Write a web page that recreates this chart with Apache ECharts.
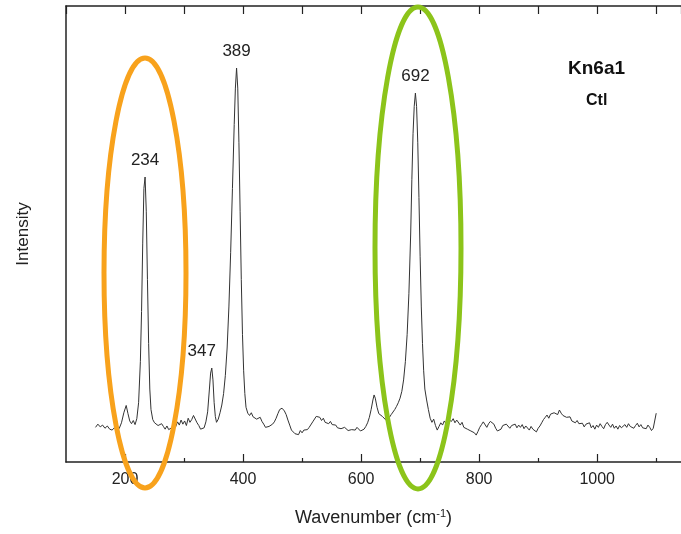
<!DOCTYPE html>
<html>
<head>
<meta charset="utf-8">
<script src="https://cdn.jsdelivr.net/npm/echarts@6/dist/echarts.min.js"></script>
<style>
  html, body { margin: 0; padding: 0; background: #fff; }
  #spectrum { width: 681px; height: 534px; }
</style>
</head>
<body>
<div id="spectrum"></div>
<script>
// Raman spectrum, Kn6a1 Ctl (intensity in arbitrary units)
var wavenumber = [
  150, 154, 158, 162, 166, 170, 174, 178, 182, 186, 190, 194, 198, 202, 205, 208, 211, 214, 217, 220,
  223, 226, 228, 230, 232, 234, 236, 238, 240, 242, 244, 247, 250, 253, 256, 259, 262, 265, 268, 271,
  274, 277, 280, 283, 286, 289, 292, 295, 298, 301, 304, 307, 310, 313, 316, 319, 322, 325, 328, 331,
  334, 337, 340, 343, 345, 347, 349, 351, 353, 355, 358, 361, 364, 367, 370, 373, 376, 379, 382, 385,
  387, 389, 391, 393, 395, 397, 399, 401, 403, 405, 408, 411, 414, 417, 420, 423, 426, 429, 432, 435,
  438, 441, 444, 447, 450, 453, 456, 459, 462, 466, 470, 473, 476, 479, 482, 485, 488, 491, 494, 497,
  500, 503, 506, 509, 512, 515, 518, 521, 524, 527, 530, 533, 536, 539, 542, 545, 548, 551, 554, 557,
  560, 563, 566, 569, 572, 575, 578, 581, 584, 587, 590, 593, 596, 599, 602, 605, 608, 611, 614, 617,
  620, 622, 624, 627, 630, 633, 636, 639, 642, 645, 648, 651, 654, 657, 660, 663, 666, 669, 672, 675,
  678, 681, 684, 686, 688, 690, 692, 694, 696, 698, 700, 702, 704, 706, 708, 711, 714, 717, 720, 723,
  726, 729, 732, 735, 738, 741, 744, 747, 750, 753, 756, 759, 762, 765, 768, 771, 774, 777, 780, 783,
  786, 789, 792, 795, 798, 801, 804, 807, 810, 813, 816, 819, 822, 825, 828, 831, 834, 837, 840, 843,
  846, 849, 852, 855, 858, 861, 864, 867, 870, 873, 876, 879, 882, 885, 888, 891, 894, 897, 900, 903,
  906, 909, 912, 915, 918, 921, 924, 927, 930, 933, 936, 939, 942, 945, 948, 951, 954, 957, 960, 963,
  966, 969, 972, 975, 978, 981, 984, 987, 990, 993, 996, 999, 1002, 1005, 1008, 1011, 1014, 1017, 1020, 1023,
  1026, 1029, 1032, 1035, 1038, 1041, 1044, 1047, 1050, 1053, 1056, 1059, 1062, 1065, 1068, 1071, 1074, 1077, 1080, 1083,
  1086, 1089, 1092, 1095, 1098, 1100
];
var intensity = [
  7.6, 8.3, 7.7, 8.1, 7.4, 7.9, 7.2, 7.0, 7.5, 6.8, 7.3, 8.6, 10.8, 12.4, 10.6, 9.0, 8.4, 9.1, 8.2, 9.5,
  13, 22, 33, 48, 60, 62.5, 55, 40, 26, 16, 11.5, 9.3, 8.6, 9.0, 8.0, 7.6, 8.4, 7.8, 7.2, 7.9,
  7.1, 6.9, 7.6, 8.5, 7.8, 8.8, 8.1, 9.2, 8.3, 9.0, 8.0, 9.6, 8.7, 9.3, 10.2, 9.8, 8.6, 8.0, 7.2, 6.8,
  7.5, 8.8, 11, 16, 19.5, 20.6, 18, 13, 10, 8.7, 9.4, 10.8, 12.5, 15, 19, 25, 34, 46, 60, 74,
  82, 86.4, 82, 70, 55, 40, 28, 20, 15, 12, 10.7, 10.2, 10.8, 9.9, 10.1, 9.4, 9.2, 9.8, 8.9, 8.3,
  7.6, 7.2, 7.8, 7.4, 8.3, 8.8, 9.6, 10.6, 11.5, 11.8, 11.2, 10.4, 9.2, 8.1, 7.0, 6.8, 6.2, 6.5, 6.0, 6.9,
  6.4, 7.0, 7.4, 7.1, 7.6, 8.0, 8.8, 9.2, 10.0, 10.4, 9.8, 9.1, 9.6, 8.7, 9.0, 8.4, 8.9, 8.2, 7.8, 8.1,
  7.5, 7.9, 7.3, 7.0, 7.6, 7.2, 6.9, 6.6, 7.1, 7.4, 7.0, 7.6, 7.2, 6.8, 6.7, 7.2, 7.8, 8.6, 9.8, 11.5,
  13.6, 14.7, 14.0, 12.0, 10.6, 10.3, 10.0, 9.6, 9.2, 9.5, 9.8, 10.4, 10.8, 11.5, 12.2, 13.0, 14.0, 15.5, 18, 22,
  28, 37, 50, 62, 72, 78, 80.9, 78, 70, 58, 45, 34, 26, 20, 16, 13.6, 11.5, 9.6, 8.7, 9.4,
  8.0, 7.0, 7.8, 8.6, 8.1, 9.0, 8.4, 9.4, 9.8, 8.9, 9.5, 8.6, 9.2, 8.8, 8.1, 8.7, 7.6, 8.0, 7.2, 7.5,
  6.8, 7.1, 6.4, 5.9, 6.7, 7.6, 8.2, 8.8, 8.5, 7.6, 8.4, 8.9, 9.2, 8.3, 7.4, 6.8, 6.4, 7.2, 8.0, 7.6,
  8.3, 7.9, 7.4, 8.0, 7.7, 8.3, 7.5, 8.1, 7.6, 8.2, 7.3, 7.9, 7.5, 7.0, 7.8, 7.2, 6.9, 6.6, 7.4, 7.9,
  8.6, 9.3, 9.8, 10.3, 9.6, 10.5, 10.1, 10.8, 11.0, 10.4, 11.4, 10.7, 10.2, 10.6, 9.8, 10.1, 9.9, 9.0, 9.4, 8.6,
  9.1, 8.4, 8.8, 8.5, 7.7, 8.3, 7.9, 8.6, 7.5, 8.0, 7.2, 8.1, 7.6, 8.4, 7.8, 7.3, 8.2, 8.7, 8.1, 7.6,
  8.3, 7.4, 7.9, 7.2, 8.0, 7.5, 7.7, 8.2, 7.6, 8.4, 7.8, 8.1, 7.4, 8.0, 8.5, 7.7, 8.2, 7.5, 7.9, 7.3,
  8.1, 7.6, 6.9, 7.4, 7.0, 10.7
];

// labelled peaks
var peakNames = ['234', '347', '389', '692'];
var peakPos = [234, 347, 389, 692];
var peakHeight = [62.5, 20.6, 86.4, 80.9];

var majorTicks = [200, 400, 600, 800, 1000];
var minorTicks = [300, 500, 700, 900, 1100];

var sampleName = 'Kn6a1';
var sampleGroup = 'Ctl';

var textColor = '#222';
var fontFamily = '"Liberation Sans", Arial, sans-serif';

var myChart = echarts.init(document.getElementById('spectrum'));

var points = wavenumber.map(function (w, i) { return [w, intensity[i]]; });

var option = {
    backgroundColor: '#fff',
    animation: false,
    textStyle: { fontFamily: fontFamily },
    grid: { left: 66, right: 0, top: 6, bottom: 72 },
    xAxis: [
        {
            type: 'value', position: 'bottom', min: 100, max: 1142, interval: 100,
            axisLine: { lineStyle: { color: textColor, width: 1.5 } },
            axisTick: { inside: true, length: 8, customValues: majorTicks, lineStyle: { color: textColor, width: 1.2 } },
            axisLabel: { customValues: majorTicks, color: textColor, fontSize: 16, margin: 10, formatter: function (v) { return String(v); } },
            splitLine: { show: false },
            name: 'Wavenumber (cm{sup|-1})',
            nameLocation: 'middle', nameGap: 46,
            nameTextStyle: {
                color: textColor, fontSize: 18,
                rich: { sup: { fontSize: 11, verticalAlign: 'top', padding: [0, 0, 10, 0], color: textColor } }
            }
        },
        {
            type: 'value', position: 'bottom', offset: 0, min: 100, max: 1142, interval: 100,
            axisLine: { show: false },
            axisTick: { inside: true, length: 4, customValues: minorTicks, lineStyle: { color: textColor, width: 1.2 } },
            axisLabel: { show: false },
            splitLine: { show: false }
        },
        {
            type: 'value', position: 'top', min: 100, max: 1142, interval: 100,
            axisLine: { lineStyle: { color: textColor, width: 1.5 } },
            axisTick: { inside: true, length: 8, lineStyle: { color: textColor, width: 1.2 } },
            axisLabel: { show: false },
            splitLine: { show: false }
        }
    ],
    yAxis: {
        type: 'value', min: 0, max: 100,
        axisLine: { show: true, lineStyle: { color: textColor, width: 1.5 } },
        axisTick: { show: false },
        axisLabel: { show: false },
        splitLine: { show: false },
        name: 'Intensity', nameLocation: 'middle', nameGap: 34,
        nameTextStyle: { color: textColor, fontSize: 17 }
    },
    series: [{
        type: 'line',
        xAxisIndex: 0,
        data: points,
        showSymbol: false,
        lineStyle: { color: '#333', width: 1 },
        markPoint: {
            symbol: 'circle', symbolSize: 0,
            label: { show: true, position: 'top', distance: 8, color: textColor, fontSize: 17, formatter: '{b}' },
            data: peakNames.map(function (n, i) {
                var p = { name: n, coord: [peakPos[i], peakHeight[i]] };
                if (n === '347') p.label = { offset: [-10, 0] };
                return p;
            })
        }
    }],
    graphic: [
        { type: 'text', left: 568, top: 59, style: { text: sampleName, fill: '#111', font: 'bold 19px ' + fontFamily } },
        { type: 'text', left: 586, top: 93, style: { text: sampleGroup, fill: '#111', font: 'bold 16px ' + fontFamily } },
        { type: 'ellipse', z: 100, shape: { cx: 145, cy: 273, rx: 41, ry: 215 }, style: { fill: 'none', stroke: '#F8A21C', lineWidth: 5 } },
        { type: 'ellipse', z: 100, shape: { cx: 418, cy: 248, rx: 43, ry: 241 }, style: { fill: 'none', stroke: '#8CC41A', lineWidth: 5 } }
    ]
};

myChart.setOption(option);
</script>
</body>
</html>
